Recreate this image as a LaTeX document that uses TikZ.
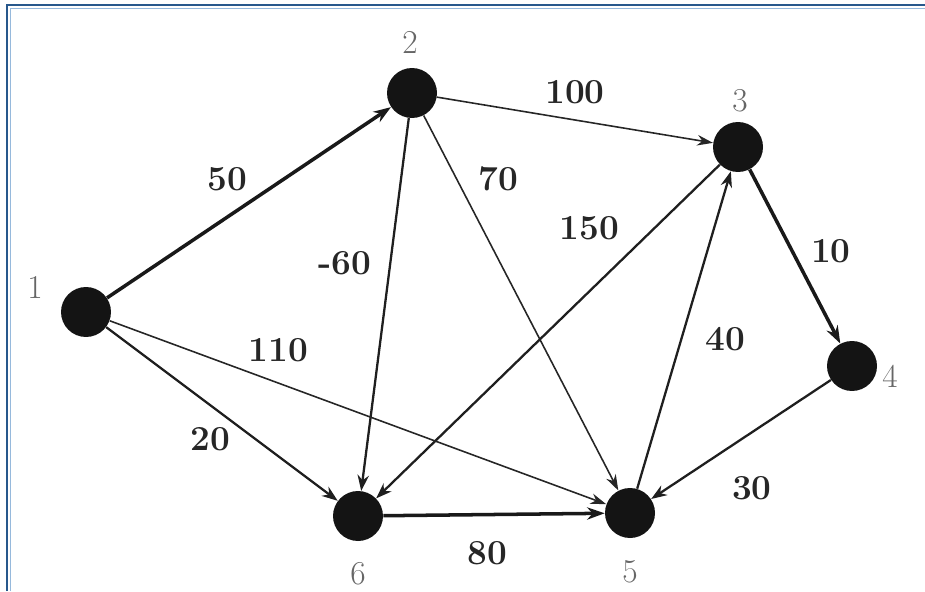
\documentclass[tikz,border=0pt]{standalone}
\usetikzlibrary{arrows.meta}
\definecolor{cadre}{RGB}{40,88,140}
\definecolor{cadreclair}{RGB}{150,185,220}
\begin{document}
\begin{tikzpicture}[x=0.02cm,y=-0.02cm]
			% Styles
			\tikzstyle{sommet}=[circle,fill=black!92,minimum size=1cm,inner sep=0pt]
			\tikzstyle{numero}=[text=black!60,font=\fontsize{19}{22}\selectfont]
			\tikzstyle{arcfin}=[-{Stealth[length=9pt,width=6pt]},line width=0.9pt,black!85]
			\tikzstyle{arc}=[-{Stealth[length=9pt,width=6.5pt]},line width=1.3pt,black!88]
			\tikzstyle{arcepais}=[-{Stealth[length=10pt,width=7pt]},line width=2pt,black!90]
			\tikzstyle{poids}=[text=black!85,font=\fontsize{20}{24}\selectfont\bfseries,inner sep=2pt]
			% Cadre
			\useasboundingbox (0,0) rectangle (925,591);
			\draw[cadreclair,line width=1pt] (10.5,591) -- (10.5,8.5) -- (925,8.5);
			\draw[cadre,line width=1.6pt] (7,591) -- (7,5) -- (925,5);
			% Sommets
			\node[sommet] (n1) at (86,312) {};
			\node[sommet] (n2) at (412,93) {};
			\node[sommet] (n3) at (738,147) {};
			\node[sommet] (n4) at (852,366) {};
			\node[sommet] (n5) at (630,513) {};
			\node[sommet] (n6) at (358,516) {};
			% Numeros
			\node[numero] (l1) at (35,287) {1};
			\node[numero] (l2) at (410,42) {2};
			\node[numero] (l3) at (740,101) {3};
			\node[numero] (l4) at (890,376) {4};
			\node[numero] (l5) at (630,572) {5};
			\node[numero] (l6) at (358,574) {6};
			% Arcs
			\draw[arcepais] (n1)--(n2) node[poids,pos=0.5,xshift=-12.5pt,yshift=13.5pt] {50};
			\draw[arcfin] (n2)--(n3) node[poids,midway,yshift=16pt] {100};
			\draw[arc] (n2)--(n6) node[poids,pos=0.39,xshift=-26pt] {-60};
			\draw[arcfin] (n2)--(n5) node[poids,pos=0.17,xshift=23.5pt] {70};
			\draw[arc] (n3)--(n6) node[poids,pos=0.19,xshift=-37pt] {150};
			\draw[arcepais] (n3)--(n4) node[poids,pos=0.47,xshift=22pt] {10};
			\draw[arcfin] (n1)--(n5) node[poids,pos=0.34,yshift=18.5pt] {110};
			\draw[arc] (n5)--(n3) node[poids,pos=0.47,xshift=25pt] {40};
			\draw[arc] (n1)--(n6) node[poids,pos=0.45,yshift=-19pt] {20};
			\draw[arc] (n4)--(n5) node[poids,pos=0.44,yshift=-32pt] {30};
			\draw[arcepais] (n6)--(n5) node[poids,pos=0.47,yshift=-22pt] {80};
		\end{tikzpicture}
\end{document}
